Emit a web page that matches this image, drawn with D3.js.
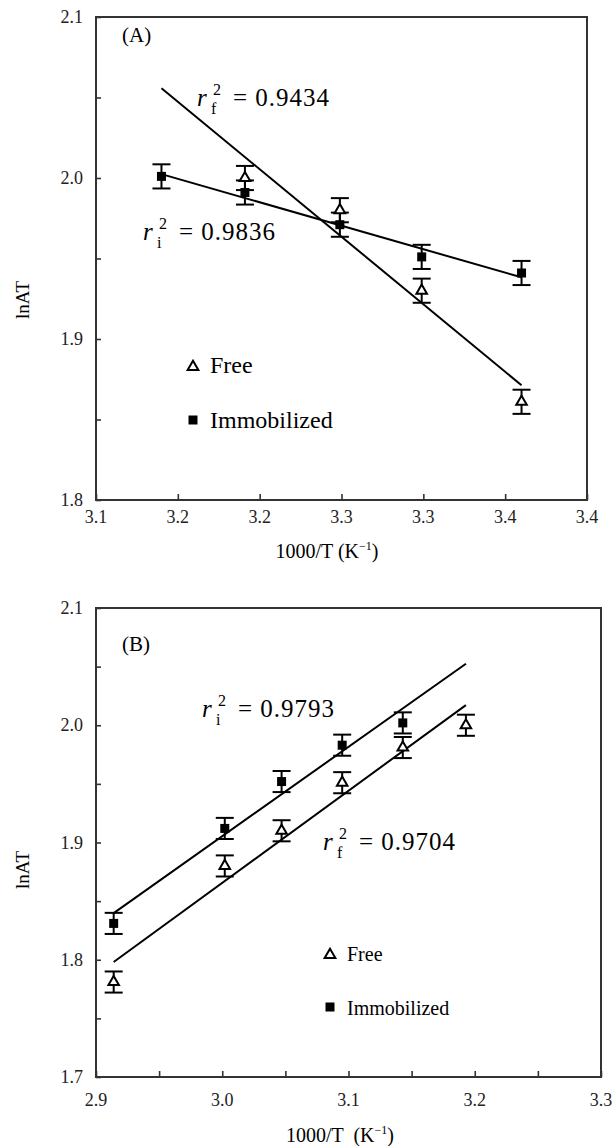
<!DOCTYPE html>
<html>
<head>
<meta charset="utf-8">
<script src="https://cdn.jsdelivr.net/npm/d3@7"></script>
<style>
  body { margin: 0; background: #fff; }
  svg text { font-family: "Liberation Serif", "DejaVu Serif", serif; }
</style>
</head>
<body>
<svg id="chart" width="612" height="1146" font-family="Liberation Serif, DejaVu Serif, serif"></svg>
<script>
// ---- panel A data (1000/T vs lnAT) ----
var xA = [3.140, 3.191, 3.249, 3.299, 3.360];
var immobA = [2.001, 1.991, 1.971, 1.951, 1.941];
var xFreeA = [3.191, 3.249, 3.299, 3.360];
var freeA = [2.000, 1.980, 1.930, 1.861];
var errA = 0.0075;
var xTicksA = [3.10, 3.15, 3.20, 3.25, 3.30, 3.35, 3.40];
var xTickLabelsA = ["3.1", "3.2", "3.2", "3.3", "3.3", "3.4", "3.4"];
var yTicksA = [1.80, 1.85, 1.90, 1.95, 2.00, 2.05, 2.10];
var yTickLabelsA = ["1.8", "", "1.9", "", "2.0", "", "2.1"];

// ---- panel B data ----
var xB = [2.914, 3.002, 3.047, 3.095, 3.143, 3.193];
var immobB = [1.831, 1.912, 1.952, 1.983, 2.002];
var freeB = [1.781, 1.880, 1.910, 1.951, 1.981, 2.000];
var errB = 0.009;
var xTicksB = [2.90, 2.95, 3.00, 3.05, 3.10, 3.15, 3.20, 3.25, 3.30];
var xTickLabelsB = ["2.9", "", "3.0", "", "3.1", "", "3.2", "", "3.3"];
var yTicksB = [1.70, 1.75, 1.80, 1.85, 1.90, 1.95, 2.00, 2.05, 2.10];
var yTickLabelsB = ["1.7", "", "1.8", "", "1.9", "", "2.0", "", "2.1"];

var svg = d3.select("#chart");

function fit(xs, ys) {
  var mx = d3.mean(xs), my = d3.mean(ys);
  var sxy = d3.sum(xs, function(x, i) { return (x - mx) * (ys[i] - my); });
  var sxx = d3.sum(xs, function(x) { return (x - mx) * (x - mx); });
  var b = sxy / sxx;
  return function(x) { return my + b * (x - mx); };
}

function rLabel(g, x, y, sub, val) {
  g.append("text").attr("x", x).attr("y", y).attr("font-size", 25)
    .attr("font-style", "italic").text("r");
  g.append("text").attr("x", x + 14).attr("y", y + 8).attr("font-size", 16).text(sub);
  g.append("text").attr("x", x + 16).attr("y", y - 11).attr("font-size", 16).text("2");
  g.append("text").attr("x", x + 36).attr("y", y).attr("font-size", 25)
    .attr("letter-spacing", 1).text("= " + val);
}

function drawPanel(p) {
  var x = d3.scaleLinear().domain(p.xDomain).range([p.left, p.right]);
  var y = d3.scaleLinear().domain(p.yDomain).range([p.bottom, p.top]);
  var g = svg.append("g");

  // frame
  g.append("rect").attr("x", p.left).attr("y", p.top)
    .attr("width", p.right - p.left).attr("height", p.bottom - p.top)
    .attr("fill", "none").attr("stroke", "#333").attr("stroke-width", 2);

  // y axis (ticks inward)
  var ya = g.append("g").attr("transform", "translate(" + p.left + ",0)")
    .call(d3.axisRight(y).tickValues(p.yTicks).tickSize(5).tickFormat(""));
  ya.select(".domain").remove();
  ya.selectAll("line").attr("stroke", "#333").attr("stroke-width", 1.6);
  g.selectAll(".ylab").data(p.yTicks).enter().append("text")
    .attr("x", p.left - 13).attr("y", function(d) { return y(d) + 6; })
    .attr("text-anchor", "end").attr("font-size", 18).attr("fill", "#222")
    .text(function(d, i) { return p.yLabels[i]; });

  // x axis (ticks inward)
  var xa = g.append("g").attr("transform", "translate(0," + p.bottom + ")")
    .call(d3.axisTop(x).tickValues(p.xTicks).tickSize(6).tickFormat(""));
  xa.select(".domain").remove();
  xa.selectAll("line").attr("stroke", "#333").attr("stroke-width", 1.6);
  g.selectAll(".xlab").data(p.xTicks).enter().append("text")
    .attr("x", function(d) { return x(d); }).attr("y", p.bottom + p.xLabOff)
    .attr("text-anchor", "middle").attr("font-size", 18).attr("fill", "#222")
    .text(function(d, i) { return p.xLabels[i]; });

  // axis titles
  g.append("text").attr("transform", "translate(" + 29 + "," + p.yTitleY + ") rotate(-90)")
    .attr("text-anchor", "middle").attr("font-size", 19).text("lnAT");
  var xt = g.append("text").attr("x", p.xTitleX).attr("y", p.xTitleY)
    .attr("text-anchor", "middle").attr("font-size", 20).attr("xml:space", "preserve");
  xt.append("tspan").text(p.xTitleText);
  xt.append("tspan").attr("font-size", 12).attr("dy", -8).text("\u22121");
  xt.append("tspan").attr("dy", 8).text(")");

  // panel letter
  g.append("text").attr("x", p.left + 26).attr("y", p.letterY)
    .attr("font-size", 21).text(p.letter);

  // trend lines
  [[p.xImmob, p.immob], [p.xFree, p.free]].forEach(function(s) {
    var f = fit(s[0], s[1]);
    g.append("line")
      .attr("x1", x(p.lineX[0])).attr("y1", y(f(p.lineX[0])))
      .attr("x2", x(p.lineX[1])).attr("y2", y(f(p.lineX[1])))
      .attr("stroke", "#000").attr("stroke-width", 2);
  });

  // error bars
  function errBars(xs, ys) {
    var eb = g.append("g").attr("stroke", "#000").attr("stroke-width", 2);
    ys.forEach(function(v, i) {
      var cx = x(xs[i]);
      eb.append("line").attr("x1", cx).attr("x2", cx)
        .attr("y1", y(v - p.err)).attr("y2", y(v + p.err));
      eb.append("line").attr("x1", cx - 9).attr("x2", cx + 9)
        .attr("y1", y(v - p.err)).attr("y2", y(v - p.err));
      eb.append("line").attr("x1", cx - 9).attr("x2", cx + 9)
        .attr("y1", y(v + p.err)).attr("y2", y(v + p.err));
    });
  }
  errBars(p.xImmob, p.immob);
  errBars(p.xFree, p.free);

  // markers
  var tri = d3.symbol().type(d3.symbolTriangle).size(48);
  g.selectAll(".tri").data(p.free).enter().append("path")
    .attr("d", tri)
    .attr("transform", function(d, i) { return "translate(" + x(p.xFree[i]) + "," + y(d) + ")"; })
    .attr("fill", "#fff").attr("stroke", "#000").attr("stroke-width", 2);
  g.selectAll(".sq").data(p.immob).enter().append("rect")
    .attr("x", function(d, i) { return x(p.xImmob[i]) - 4.5; })
    .attr("y", function(d) { return y(d) - 4.5; })
    .attr("width", 9).attr("height", 9).attr("fill", "#000");

  // r^2 labels
  rLabel(g, p.rI[0], p.rI[1], "i", p.rI[2]);
  rLabel(g, p.rF[0], p.rF[1], "f", p.rF[2]);

  // legend
  var lg = g.append("g");
  lg.append("path").attr("d", d3.symbol().type(d3.symbolTriangle).size(50))
    .attr("transform", "translate(" + p.legX + "," + (p.legY - 6) + ")")
    .attr("fill", "#fff").attr("stroke", "#000").attr("stroke-width", 2);
  lg.append("text").attr("x", p.legX + 17).attr("y", p.legY)
    .attr("font-size", p.legFont).text("Free");
  lg.append("rect").attr("x", p.legX - 4.5).attr("y", p.legY + p.legGap - 12.5)
    .attr("width", 9).attr("height", 9).attr("fill", "#000");
  lg.append("text").attr("x", p.legX + 17).attr("y", p.legY + p.legGap)
    .attr("font-size", p.legFont).text("Immobilized");
}

drawPanel({
  left: 96, right: 587, top: 17, bottom: 500,
  xDomain: [3.1, 3.4], yDomain: [1.8, 2.1],
  xTicks: xTicksA, xLabels: xTickLabelsA, yTicks: yTicksA, yLabels: yTickLabelsA,
  xLabOff: 23, yTitleY: 300, xTitleX: 327, xTitleY: 558, xTitleText: "1000/T (K",
  letter: "(A)", letterY: 42,
  xImmob: xA, immob: immobA, xFree: xFreeA, free: freeA, err: errA,
  lineX: [xA[0], xA[4]],
  rI: [143, 240, "0.9836"], rF: [197, 106, "0.9434"],
  legX: 193, legY: 373, legGap: 55, legFont: 24
});

drawPanel({
  left: 96, right: 601, top: 608, bottom: 1077,
  xDomain: [2.9, 3.3], yDomain: [1.7, 2.1],
  xTicks: xTicksB, xLabels: xTickLabelsB, yTicks: yTicksB, yLabels: yTickLabelsB,
  xLabOff: 29, yTitleY: 870, xTitleX: 340, xTitleY: 1142, xTitleText: "1000/T  (K",
  letter: "(B)", letterY: 651,
  xImmob: xB.slice(0, 5), immob: immobB, xFree: xB, free: freeB, err: errB,
  lineX: [xB[0], xB[5]],
  rI: [202, 717, "0.9793"], rF: [323, 850, "0.9704"],
  legX: 330, legY: 961, legGap: 54, legFont: 20
});
</script>
</body>
</html>
